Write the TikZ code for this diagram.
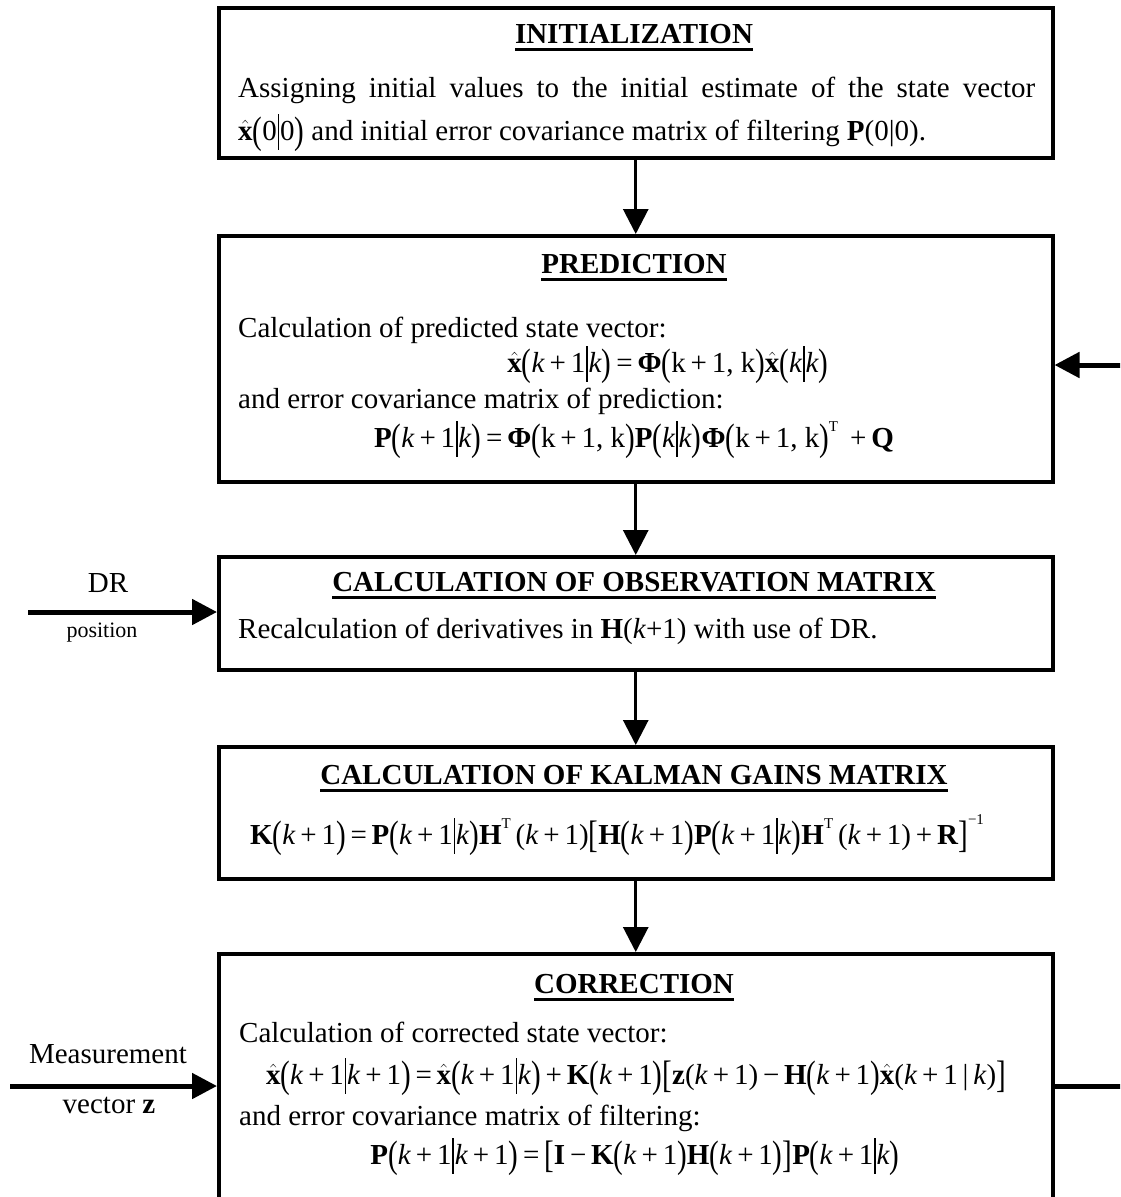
\documentclass[tikz,border=0pt]{standalone}
\usepackage{fontspec}
\setmainfont{Liberation Serif}
\usepackage{graphicx}
\usetikzlibrary{arrows.meta}
\newcommand{\LP}{\raisebox{-0.13em}{\scalebox{1}[1.32]{(}}}
\newcommand{\RP}{\raisebox{-0.13em}{\scalebox{1}[1.32]{)}}}
\newcommand{\LBk}{\raisebox{-0.13em}{\scalebox{1}[1.32]{[}}}
\newcommand{\RBk}{\raisebox{-0.13em}{\scalebox{1}[1.32]{]}}}
\newcommand{\VB}{\hspace{0.03em}\rule[-0.33em]{0.05em}{1.22em}\hspace{0.03em}}
\newcommand{\kk}{\textit{k}}
\newcommand{\xh}{$\hat{\textbf{x}}$}
\newcommand{\Bf}[1]{\textbf{#1}}
\newcommand{\PHI}{\textbf{Φ}}
\newcommand{\pl}{\,+\,}
\newcommand{\eq}{\,=\,}
\newcommand{\mi}{\,−\,}
\newcommand{\supT}{\raisebox{0.55em}{\fontsize{15}{15}\selectfont T}}
\newcommand{\supM}{\raisebox{0.68em}{\fontsize{15}{15}\selectfont −1}}
\newcommand{\ttl}[1]{\setbox0\hbox{\bfseries #1}\leavevmode\rlap{\rule[-7.5pt]{\wd0}{3pt}}\box0}
\begin{document}
\begin{tikzpicture}[x=1pt,y=-1pt,
  box/.style={draw, line width=3.5pt, rectangle, minimum width=834pt, anchor=north west, inner sep=0pt},
  txt/.style={anchor=base west, inner sep=0pt, font=\fontsize{29}{34}\selectfont},
  ctxt/.style={anchor=base, inner sep=0pt, font=\fontsize{29}{34}\selectfont},
  small/.style={anchor=base, inner sep=0pt, font=\fontsize{22}{26}\selectfont},
  varrow/.style={line width=3pt, -{Triangle[width=25pt,length=25pt]}},
  inarrow/.style={line width=5pt, -{Triangle[width=25pt,length=25pt]}},
  fbline/.style={line width=5pt}]
\path[use as bounding box, clip] (0,0) rectangle (1120,1197);
\fill[white] (0,0) rectangle (1120,1197);
% boxes
\node[box, minimum height=150pt] (init) at (217,6) {};
\node[box, minimum height=246pt] (pred) at (217,234) {};
\node[box, minimum height=113pt] (obs) at (217,555) {};
\node[box, minimum height=132pt] (kal) at (217,745) {};
\node[box, minimum height=290pt] (corr) at (217,952) {};
% init texts
\node[ctxt] (t1) at (634,43) {\ttl{INITIALIZATION}};
\node[txt] (i1) at (238,97) {\makebox[797pt][s]{Assigning initial values to the initial estimate of the state vector}};
\node[txt] (i2) at (238,140) {\xh\LP 0\VB 0\RP\ and initial error covariance matrix of filtering \Bf{P}(0|0).};
% prediction
\node[ctxt] (t2) at (634,273) {\ttl{PREDICTION}};
\node[txt] (p1) at (238,337) {Calculation of predicted state vector:};
\node[ctxt] (p2) at (668,372) {\xh\LP\kk\pl 1\VB\kk\RP\eq\PHI\LP k\pl 1, k\RP\xh\LP\kk\VB\kk\RP};
\node[txt] (p3) at (238,408) {and error covariance matrix of prediction:};
\node[ctxt] (p4) at (634,447) {\Bf{P}\LP\kk\pl 1\VB\kk\RP\eq\PHI\LP k\pl 1, k\RP\Bf{P}\LP\kk\VB\kk\RP\PHI\LP k\pl 1, k\RP\supT\ \pl\Bf{Q}};
% observation
\node[ctxt] (t3) at (634,591) {\ttl{CALCULATION OF OBSERVATION MATRIX}};
\node[txt] (o1) at (238,638) {Recalculation of derivatives in \Bf{H}(\kk+1) with use of DR.};
% kalman
\node[ctxt] (t4) at (634,784) {\ttl{CALCULATION OF KALMAN GAINS MATRIX}};
\node[ctxt] (k1) at (617,844) {\Bf{K}\LP\kk\pl 1\RP\eq\Bf{P}\LP\kk\pl 1\VB\kk\RP\Bf{H}\supT\,(\kk\pl 1)\LBk\Bf{H}\LP\kk\pl 1\RP\Bf{P}\LP\kk\pl 1\VB\kk\RP\Bf{H}\supT\,(\kk\pl 1)\pl\Bf{R}\RBk\supM};
% correction
\node[ctxt] (t5) at (634,993) {\ttl{CORRECTION}};
\node[txt] (c1) at (239,1042) {Calculation of corrected state vector:};
\node[ctxt] (c2) at (636,1084) {\xh\LP\kk\pl 1\VB\kk\pl 1\RP\eq\xh\LP\kk\pl 1\VB\kk\RP\pl\Bf{K}\LP\kk\pl 1\RP\LBk\Bf{z}(\kk\pl 1)\mi\Bf{H}\LP\kk\pl 1\RP\xh(\kk\pl 1\,|\,\kk)\RBk};
\node[txt] (c3) at (239,1125) {and error covariance matrix of filtering:};
\node[ctxt] (c4) at (635,1164) {\Bf{P}\LP\kk\pl 1\VB\kk\pl 1\RP\eq\LBk\Bf{I}\mi\Bf{K}\LP\kk\pl 1\RP\Bf{H}\LP\kk\pl 1\RP\RBk\Bf{P}\LP\kk\pl 1\VB\kk\RP};
% input labels
\node[ctxt] (drl) at (108,592) {DR};
\node[small] (posl) at (102,637) {position};
\node[ctxt] (msl) at (108,1063) {Measurement};
\node[ctxt] (vzl) at (109,1113) {vector \Bf{z}};
% connectors
\draw[varrow] (init.south) -- (pred.north);
\draw[varrow] (pred.south) -- (obs.north);
\draw[varrow] (obs.south) -- (kal.north);
\draw[varrow] (kal.south) -- (corr.north);
\coordinate (dr) at (28,612);
\draw[inarrow] (dr) -- (dr -| obs.west);
\coordinate (mz) at (10,1086);
\draw[inarrow] (mz) -- (mz -| corr.west);
\coordinate (fbin) at (1051,365);
\coordinate (fbr) at (1170,1086);
\draw[fbline] (corr.east |- mz) -- (fbr) -- (fbr |- fbin);
\draw[inarrow] (fbr |- fbin) -- (fbin -| pred.east);
\end{tikzpicture}
\end{document}
